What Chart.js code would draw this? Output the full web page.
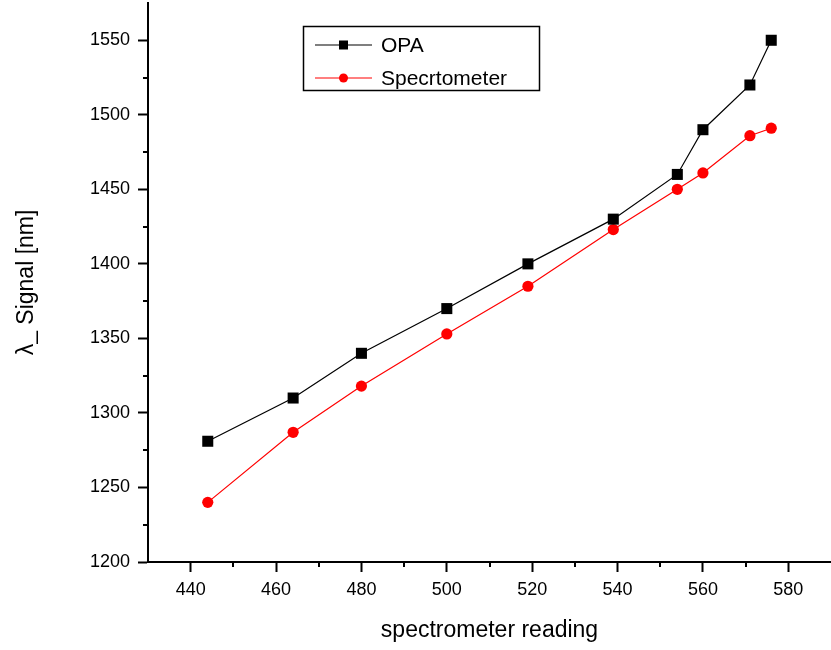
<!DOCTYPE html>
<html>
<head>
<meta charset="utf-8">
<script src="https://cdn.jsdelivr.net/npm/chart.js@4/dist/chart.umd.min.js"></script>
<style>
  html, body { margin: 0; padding: 0; background: #fff; }
  #wrap { width: 831px; height: 650px; position: relative; }
</style>
</head>
<body>
<div id="wrap"><canvas id="chart"></canvas></div>
<script>
// Wavelength calibration: spectrometer reading vs. signal wavelength
const readings = [444, 464, 480, 500, 519, 539, 554, 560, 571, 576];
const opaSignal = [1281, 1310, 1340, 1370, 1400, 1430, 1460, 1490, 1520, 1550];
const spectrometerSignal = [1240, 1287, 1318, 1353, 1385, 1423, 1450, 1461, 1486, 1491];
const seriesNames = ['OPA', 'Specrtometer'];

const xTickLabels = [440, 460, 480, 500, 520, 540, 560, 580];
const yTickLabels = [1200, 1250, 1300, 1350, 1400, 1450, 1500, 1550];
const xMinorTicks = [450, 470, 490, 510, 530, 550, 570];
const yMinorTicks = [1225, 1275, 1325, 1375, 1425, 1475, 1525];

const FONT = "'Liberation Sans', Arial, sans-serif";

const toPoints = (xs, ys) => xs.map((x, i) => ({ x: x, y: ys[i] }));

// Short outward minor ticks on both axes
const minorTicks = {
  id: 'minorTicks',
  afterDraw(chart) {
    const { ctx, chartArea, scales } = chart;
    ctx.save();
    ctx.strokeStyle = '#000';
    ctx.lineWidth = 2;
    ctx.beginPath();
    xMinorTicks.forEach(v => {
      const px = Math.round(scales.x.getPixelForValue(v));
      ctx.moveTo(px, chartArea.bottom);
      ctx.lineTo(px, chartArea.bottom + 5);
    });
    yMinorTicks.forEach(v => {
      const py = Math.round(scales.y.getPixelForValue(v));
      ctx.moveTo(chartArea.left, py);
      ctx.lineTo(chartArea.left - 5, py);
    });
    ctx.stroke();
    ctx.restore();
  }
};

// Boxed legend with line + marker samples
const boxedLegend = {
  id: 'boxedLegend',
  afterDraw(chart) {
    const { ctx } = chart;
    const box = { x: 303.5, y: 26.5, w: 236, h: 64 };
    ctx.save();
    ctx.fillStyle = '#fff';
    ctx.fillRect(box.x, box.y, box.w, box.h);
    ctx.strokeStyle = '#000';
    ctx.lineWidth = 1.5;
    ctx.strokeRect(box.x, box.y, box.w, box.h);
    const rows = [45, 78];
    chart.data.datasets.forEach((ds, i) => {
      const y = rows[i];
      ctx.strokeStyle = ds.borderColor;
      ctx.lineWidth = 1.2;
      ctx.beginPath();
      ctx.moveTo(315, y);
      ctx.lineTo(372, y);
      ctx.stroke();
      ctx.fillStyle = ds.pointBackgroundColor;
      if (ds.pointStyle === 'rect') {
        ctx.fillRect(339, y - 4.5, 9, 9);
      } else {
        ctx.beginPath();
        ctx.arc(343.5, y, 4.5, 0, Math.PI * 2);
        ctx.fill();
      }
      ctx.fillStyle = '#000';
      ctx.font = '21px ' + FONT;
      ctx.textBaseline = 'middle';
      ctx.textAlign = 'left';
      ctx.fillText(ds.label, 381, y + 1);
    });
    ctx.restore();
  }
};

new Chart(document.getElementById('chart'), {
  type: 'scatter',
  data: {
    datasets: [
      {
        label: seriesNames[0],
        data: toPoints(readings, opaSignal),
        showLine: true,
        borderColor: '#000',
        backgroundColor: '#000',
        pointBackgroundColor: '#000',
        pointBorderColor: '#000',
        borderWidth: 1.2,
        pointStyle: 'rect',
        pointRadius: 7.8,
        pointBorderWidth: 0
      },
      {
        label: seriesNames[1],
        data: toPoints(readings, spectrometerSignal),
        showLine: true,
        borderColor: '#ff0000',
        backgroundColor: '#ff0000',
        pointBackgroundColor: '#ff0000',
        pointBorderColor: '#ff0000',
        borderWidth: 1.2,
        pointStyle: 'circle',
        pointRadius: 5.6,
        pointBorderWidth: 0
      }
    ]
  },
  options: {
    responsive: true,
    maintainAspectRatio: false,
    animation: false,
    layout: { autoPadding: false, padding: { top: 3, right: 0, bottom: 0, left: 0 } },
    plugins: {
      legend: { display: false },
      tooltip: { enabled: false }
    },
    scales: {
      x: {
        type: 'linear',
        min: 430,
        max: 590,
        afterBuildTicks: s => { s.ticks = xTickLabels.map(v => ({ value: v })); },
        afterFit: s => { s.height = 88; s.paddingLeft = 0; s.paddingRight = 0; },
        ticks: {
          autoSkip: false,
          maxRotation: 0,
          padding: 7,
          color: '#000',
          font: { family: FONT, size: 18 },
          callback: v => String(v)
        },
        grid: {
          display: true,
          drawOnChartArea: false,
          drawTicks: true,
          tickLength: 10,
          tickWidth: 2,
          tickColor: '#000'
        },
        border: { display: true, color: '#000', width: 2 },
        title: {
          display: true,
          text: 'spectrometer reading',
          color: '#000',
          font: { family: FONT, size: 23 },
          padding: { top: 0, bottom: 6 }
        }
      },
      y: {
        type: 'linear',
        min: 1200,
        max: 1575,
        afterBuildTicks: s => { s.ticks = yTickLabels.map(v => ({ value: v })); },
        afterFit: s => { s.width = 148; s.paddingTop = 0; s.paddingBottom = 0; },
        ticks: {
          autoSkip: false,
          padding: 8,
          color: '#000',
          font: { family: FONT, size: 18 },
          callback: v => String(v)
        },
        grid: {
          display: true,
          drawOnChartArea: false,
          drawTicks: true,
          tickLength: 10,
          tickWidth: 2,
          tickColor: '#000'
        },
        border: { display: true, color: '#000', width: 2 },
        title: {
          display: true,
          text: 'λ_ Signal [nm]',
          color: '#000',
          font: { family: FONT, size: 23 },
          padding: { top: 13, bottom: 0 }
        }
      }
    }
  },
  plugins: [minorTicks, boxedLegend]
});
</script>
</body>
</html>
